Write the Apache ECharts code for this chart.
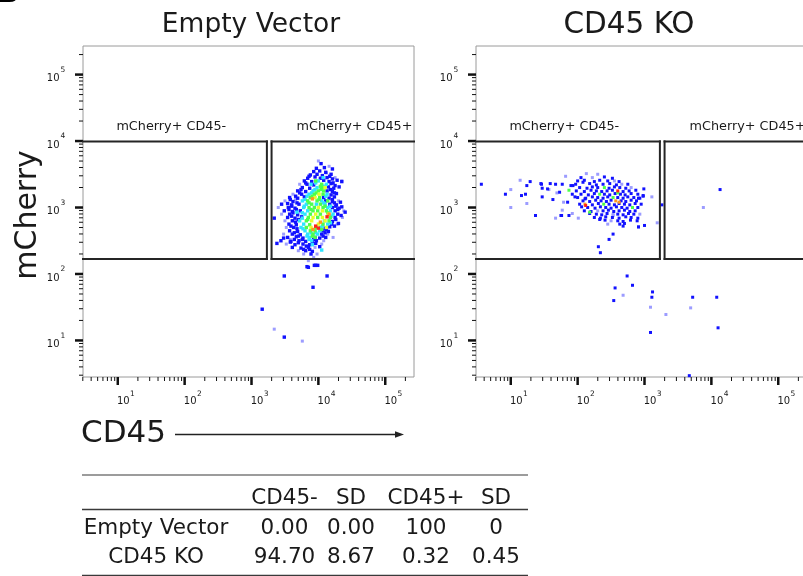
<!DOCTYPE html>
<html><head><meta charset="utf-8">
<script src="https://cdn.jsdelivr.net/npm/echarts/dist/echarts.min.js"></script>
<style>html,body{margin:0;padding:0;background:#fff}#c{width:803px;height:576px}</style>
</head><body><div id="c"></div>
<script>
// ---------- axis ranges (log10 units of fluorescence) ----------
const X_RANGE = [0.48, 5.43];
const Y_RANGE = [0.45, 5.43];
const majorExps = [1, 2, 3, 4, 5];
const minorDecades = [0, 1, 2, 3, 4, 5];
const minorMult = [2, 3, 4, 5, 6, 7, 8, 9];

// ---------- titles / labels ----------
const panelTitles = ['Empty Vector', 'CD45 KO'];
const yAxisTitle = 'mCherry';
const xAxisTitle = 'CD45';
const gateNames = ['mCherry+ CD45-', 'mCherry+ CD45+'];
// gates in log10 units: [cd45Low, cd45High, mCherryLow, mCherryHigh]
const gateNeg = [0.0, 3.23, 2.226, 3.995];
const gatePos = [3.30, 6.0, 2.226, 3.995];
const gateLabelCD45 = [1.80, 4.54];

// ---------- table ----------
const tableCols = ['CD45-', 'SD', 'CD45+', 'SD'];
const tableRowNames = ['Empty Vector', 'CD45 KO'];
const colCD45neg = ['0.00', '94.70'];
const colSDneg = ['0.00', '8.67'];
const colCD45pos = ['100', '0.32'];
const colSDpos = ['0', '0.45'];

// ---------- events, Empty Vector: [log10 CD45, log10 mCherry] by density level ----------
const evLav = [[4.00,3.70],[4.16,3.62],[4.25,3.45],[4.35,3.40],[3.72,3.35],[3.62,3.20],[3.50,3.10],[3.40,3.00],[4.38,2.95],[3.45,2.90],[4.36,2.85],[3.50,2.80],[4.28,2.75],[3.52,2.70],[3.48,2.60],[4.14,2.60],[4.08,2.50],[3.52,2.45],[4.05,2.45],[3.95,2.40],[3.70,2.35],[3.78,2.30],[3.98,2.30],[3.85,2.20],[4.12,3.52],[3.58,2.52],[4.30,3.10],[3.66,3.12],[4.22,2.55],[3.93,2.25],[3.34,1.17],[3.76,0.99]];
const evBlue = [[4.04,3.66],[3.97,3.59],[4.09,3.60],[4.21,3.58],[3.93,3.54],[4.02,3.55],[4.11,3.53],[3.88,3.49],[3.98,3.50],[4.06,3.48],[4.19,3.50],[3.84,3.44],[3.95,3.46],[4.03,3.44],[4.13,3.45],[4.21,3.43],[3.79,3.40],[3.90,3.39],[4.08,3.41],[4.16,3.39],[4.28,3.41],[3.83,3.35],[3.93,3.34],[4.19,3.36],[4.25,3.33],[3.76,3.30],[3.87,3.29],[4.15,3.31],[4.23,3.29],[4.31,3.31],[3.69,3.25],[3.81,3.24],[4.13,3.25],[4.21,3.24],[3.75,3.20],[4.19,3.19],[4.27,3.21],[3.57,3.15],[3.69,3.14],[3.79,3.16],[4.08,3.15],[4.16,3.14],[4.24,3.16],[3.62,3.09],[4.11,3.10],[4.21,3.09],[4.33,3.08],[3.45,3.05],[3.54,3.06],[3.60,3.04],[3.71,3.05],[4.17,3.05],[4.27,3.04],[4.35,3.01],[3.55,3.00],[3.65,2.99],[4.21,3.00],[4.31,2.99],[3.49,2.95],[3.61,2.94],[3.73,2.95],[4.25,2.95],[3.57,2.90],[3.69,2.89],[4.29,2.90],[4.40,2.93],[3.54,2.85],[3.65,2.84],[3.75,2.86],[4.25,2.85],[3.61,2.80],[4.21,2.79],[4.30,2.76],[3.56,2.75],[3.67,2.74],[4.20,2.75],[3.63,2.70],[4.10,2.69],[4.17,2.71],[3.57,2.65],[3.69,2.64],[4.07,2.65],[4.15,2.64],[3.61,2.60],[3.73,2.59],[4.05,2.60],[3.48,2.54],[3.54,2.55],[3.67,2.56],[3.77,2.54],[3.95,2.55],[4.02,2.54],[4.11,2.55],[3.44,2.50],[3.59,2.49],[3.71,2.50],[3.81,2.49],[3.97,2.50],[3.58,2.48],[3.65,2.44],[3.77,2.45],[3.87,2.44],[3.96,2.46],[3.61,2.40],[3.74,2.39],[3.85,2.40],[4.02,2.41],[3.81,2.35],[3.91,2.34],[3.89,2.30],[3.16,1.47],[3.49,1.05],[3.49,1.97],[4.13,1.97],[3.92,1.80],[3.83,2.11],[3.96,2.13],[3.34,2.84],[3.38,2.46],[4.35,3.39],[3.94,2.13],[3.99,2.13],[3.85,2.10],
[3.86,3.47],[4.17,3.47],[3.81,3.37],[4.22,3.37],[3.74,3.27],[4.18,3.27],[3.72,3.22],[4.24,3.22],[3.66,3.17],[4.21,3.12],[3.58,3.12],[3.68,3.07],[4.24,3.07],[3.60,3.02],[4.26,3.02],[3.56,2.97],[3.67,2.97],[4.29,2.97],[3.62,2.92],[4.34,2.88],[3.60,2.87],[3.70,2.82],[4.26,2.82],[3.66,2.78],[4.24,2.72],[3.59,2.72],[3.68,2.68],[4.12,2.67],[3.64,2.62],[4.10,2.62],[3.70,2.57],[4.07,2.57],[3.64,2.52],[3.76,2.52],[3.93,2.52],[3.70,2.47],[3.82,2.42],[3.91,2.47],[3.78,2.37],[3.87,2.37]];
const evCyan = [[4.00,3.40],[4.12,3.35],[3.98,3.30],[3.92,3.25],[3.86,3.20],[4.13,3.20],[3.76,3.10],[4.05,3.10],[3.82,3.05],[3.97,3.05],[4.10,3.05],[3.78,3.00],[4.14,3.00],[3.84,2.95],[4.18,2.95],[3.80,2.90],[4.22,2.90],[3.72,2.80],[3.78,2.75],[4.14,2.75],[3.74,2.70],[4.03,2.70],[3.80,2.65],[4.02,2.65],[3.84,2.60],[3.99,2.60],[3.87,2.55],[3.90,2.50],[4.05,2.36],[3.89,3.35],[4.07,3.45],[3.68,2.93],[3.91,2.44],[4.09,2.80],
[3.96,3.37],[4.09,3.32],[3.95,3.27],[3.90,3.22],[3.83,3.17],[4.11,3.17],[3.80,3.12],[4.08,3.07],[3.79,3.02],[4.18,3.02],[3.76,2.92],[4.19,2.87],[3.76,2.84],[4.18,2.77],[3.77,2.68],[4.06,2.72],[3.83,2.57],[3.96,2.62],[3.86,2.52],[3.89,2.62]];
const evGreen = [[4.05,3.35],[4.06,3.30],[4.00,3.25],[4.08,3.25],[3.94,3.20],[4.07,3.20],[3.88,3.15],[4.02,3.15],[3.84,3.10],[3.98,3.10],[3.90,3.05],[4.03,3.05],[3.86,3.00],[3.94,3.00],[4.07,3.00],[3.92,2.95],[3.99,2.95],[4.12,2.95],[3.88,2.90],[4.03,2.90],[3.85,2.85],[3.99,2.85],[4.18,2.85],[3.82,2.80],[4.16,2.80],[4.07,2.75],[3.82,2.70],[3.96,2.70],[3.88,2.65],[3.95,2.65],[3.92,2.60],[3.95,2.55],[3.96,3.40],[4.14,3.10],
[4.03,3.32],[3.97,3.22],[4.04,3.27],[3.91,3.17],[3.86,3.07],[4.01,3.12],[3.89,2.97],[4.10,3.02],[3.84,2.82],[4.14,2.92],[3.87,2.74],[4.05,2.67],[3.91,2.57]];
const evYellow = [[4.10,3.30],[4.01,3.20],[3.95,3.15],[4.00,3.00],[4.06,2.95],[3.96,2.90],[4.15,2.90],[3.92,2.85],[4.06,2.85],[3.90,2.80],[4.10,2.80],[4.00,2.75],[3.89,2.70],[4.12,2.70]];
const evOrange = [[3.91,3.13],[3.92,2.67],[4.16,2.90],[4.03,2.78]];
const evRed = [[3.96,2.72],[4.00,2.69],[4.13,2.86]];

// ---------- events, CD45 KO ----------
const koLav = [[1.14,3.41],[1.00,3.27],[1.57,3.27],[1.24,3.06],[1.00,3.00],[1.69,3.22],[1.82,3.47],[1.79,3.08],[1.77,2.96],[1.67,2.84],[1.92,2.91],[2.01,2.84],[2.13,3.51],[2.30,3.50],[2.22,3.45],[2.55,3.40],[2.66,3.35],[2.80,3.30],[3.11,3.16],[2.30,2.95],[2.53,2.90],[2.93,2.90],[2.50,2.80],[2.45,2.75],[2.91,2.70],[3.19,2.77],[2.53,2.88],[3.88,3.00],[3.09,1.50],[3.32,1.39],[3.69,1.49],[2.68,1.68]];
const koBlue = [[0.56,3.35],[0.92,3.20],[1.24,3.33],[1.29,3.39],[1.16,3.18],[1.22,3.20],[1.46,3.35],[1.47,3.29],[1.59,3.36],[1.67,3.35],[1.47,3.16],[1.63,3.12],[1.37,2.88],[1.77,3.35],[1.90,3.33],[1.92,3.20],[1.85,3.08],[1.76,2.88],[1.87,2.88],[1.45,3.36],[1.55,3.28],[1.73,3.23],[1.75,2.88],[1.93,3.33],[1.96,3.16],[2.06,3.01],[2.08,3.38],[2.11,3.13],[2.18,2.91],[2.33,2.82],[2.41,2.81],
[2.05,3.45],[2.40,3.46],[2.52,3.44],[2.00,3.40],[2.10,3.41],[2.25,3.39],[2.33,3.41],[2.45,3.40],[2.62,3.39],[1.97,3.35],[2.18,3.36],[2.28,3.34],[2.38,3.35],[2.48,3.36],[2.58,3.34],[2.75,3.35],[2.03,3.30],[2.14,3.29],[2.22,3.31],[2.30,3.30],[2.47,3.29],[2.55,3.31],[2.63,3.30],[2.72,3.29],[1.98,3.25],[2.10,3.24],[2.20,3.26],[2.28,3.25],[2.36,3.24],[2.44,3.25],[2.52,3.26],[2.68,3.24],[2.77,3.25],[2.87,3.26],[2.05,3.20],[2.16,3.19],[2.25,3.21],[2.40,3.20],[2.48,3.19],[2.56,3.21],[2.64,3.20],[2.71,3.19],[2.80,3.21],[2.90,3.20],[2.98,3.18],[2.00,3.15],[2.12,3.14],[2.22,3.16],[2.30,3.15],[2.38,3.14],[2.45,3.16],[2.60,3.15],[2.68,3.14],[2.75,3.16],[2.84,3.15],[2.93,3.14],[2.08,3.10],[2.18,3.09],[2.27,3.11],[2.35,3.10],[2.43,3.09],[2.50,3.11],[2.65,3.10],[2.72,3.09],[2.80,3.11],[2.88,3.10],[2.03,3.05],[2.22,3.04],[2.31,3.06],[2.47,3.05],[2.55,3.04],[2.62,3.06],[2.70,3.05],[2.78,3.04],[2.86,3.06],[2.95,3.05],[2.15,3.00],[2.26,2.99],[2.34,3.01],[2.42,3.00],[2.50,2.99],[2.58,3.01],[2.66,3.00],[2.74,2.99],[2.90,3.00],[2.10,2.95],[2.20,2.94],[2.38,2.95],[2.46,2.96],[2.54,2.94],[2.62,2.95],[2.70,2.96],[2.78,2.94],[2.86,2.95],[2.28,2.90],[2.36,2.89],[2.44,2.91],[2.60,2.90],[2.68,2.89],[2.76,2.91],[2.84,2.90],[2.25,2.85],[2.34,2.84],[2.42,2.86],[2.52,2.85],[2.62,2.84],[2.72,2.86],[2.80,2.85],[2.90,2.84],[2.60,2.80],[2.68,2.79],[2.79,2.81],[2.89,2.80],[2.63,2.75],[2.70,2.76],[2.91,2.71],[3.00,2.73],[2.68,2.72],[2.99,3.28],[2.98,3.17],[2.91,3.14],[3.26,3.04],
[2.53,2.60],[2.47,2.52],[2.31,2.41],[2.34,2.32],[4.13,3.27],
[2.74,1.97],[2.82,1.83],[2.56,1.79],[2.54,1.60],[3.12,1.73],[3.11,1.65],[3.09,1.12],[3.72,1.65],[4.08,1.65],[4.10,1.19],[3.67,0.47]];
const koGreen = [[1.87,3.26],[2.40,3.30],[2.33,3.20],[2.53,3.15],[2.39,3.05],[2.82,3.00],[2.18,2.93],[2.60,3.22]];
const koOrange = [[2.57,3.10],[2.11,3.05],[2.62,3.08]];
const koRed = [[2.60,3.25],[2.12,3.03]];

// ---------- build ----------
const FONT = '"DejaVu Sans", "Liberation Sans", Arial, sans-serif';
const tickData = [];
[0, 1].forEach(function (ax) {
  const r = ax === 0 ? X_RANGE : Y_RANGE;
  majorExps.forEach(function (e) { tickData.push([e, ax, 1]); });
  minorDecades.forEach(function (d) {
    minorMult.forEach(function (m) {
      const v = d + Math.log10(m);
      if (v >= r[0] - 0.01 && v <= r[1]) tickData.push([v, ax, 0]);
    });
  });
});

function txt(x, y, s, size, align, valign, extra) {
  const o = { type: 'text', x: x, y: y, silent: true,
    style: { text: s, font: size + 'px ' + FONT, fill: '#1a1a1a',
      textAlign: align, align: align, textVerticalAlign: valign, verticalAlign: valign } };
  if (extra) Object.assign(o, extra);
  return o;
}

function renderTick(params, api) {
  const cs = params.coordSys;
  const v = api.value(0), ax = api.value(1), major = api.value(2) === 1;
  const len = major ? 8 : 4, lw = major ? 2.5 : 1;
  const ch = [];
  if (ax === 0) {
    const x = api.coord([v, Y_RANGE[0]])[0];
    const b = cs.y + cs.height;
    ch.push({ type: 'line', shape: { x1: x, y1: b, x2: x, y2: b + len }, style: { stroke: '#111', lineWidth: lw } });
    if (major) {
      ch.push(txt(x - 0.8, b + 24.5, '10', 10, 'left', 'middle'));
      ch.push(txt(x + 12.3, b + 17.3, String(Math.round(v)), 7.5, 'left', 'middle'));
    }
  } else {
    const y = api.coord([X_RANGE[0], v])[1];
    const l = cs.x;
    ch.push({ type: 'line', shape: { x1: l, y1: y, x2: l - len, y2: y }, style: { stroke: '#111', lineWidth: lw } });
    if (major) {
      ch.push(txt(l - 23.5, y + 4.2, '10', 10, 'right', 'middle'));
      ch.push(txt(l - 22.5, y - 4.5, String(Math.round(v)), 7.5, 'left', 'middle'));
    }
  }
  return { type: 'group', children: ch };
}

function renderGate(params, api) {
  const cs = params.coordSys;
  const x0 = api.value(0), x1 = api.value(1), y0 = api.value(2), y1 = api.value(3);
  const tl = api.coord([x0, y1]), br = api.coord([x1, y0]);
  const left = Math.max(tl[0], cs.x), right = Math.min(br[0], cs.x + cs.width);
  const st = { stroke: '#252525', lineWidth: 2, lineCap: 'square' };
  const ch = [
    { type: 'line', shape: { x1: left, y1: tl[1], x2: right, y2: tl[1] }, style: st },
    { type: 'line', shape: { x1: left, y1: br[1], x2: right, y2: br[1] }, style: st }
  ];
  if (tl[0] > cs.x && tl[0] < cs.x + cs.width) ch.push({ type: 'line', shape: { x1: tl[0], y1: tl[1], x2: tl[0], y2: br[1] }, style: st });
  if (br[0] > cs.x && br[0] < cs.x + cs.width) ch.push({ type: 'line', shape: { x1: br[0], y1: tl[1], x2: br[0], y2: br[1] }, style: st });
  const lp = api.coord([gateLabelCD45[params.dataIndex], y1]);
  ch.push(txt(lp[0], lp[1] - 15, gateNames[params.dataIndex], 12.8, 'center', 'middle'));
  return { type: 'group', children: ch };
}

const COLORS = { lav: '#9c9cff', blue: '#1212ff', cyan: '#2fe4ff', green: '#4cff4c', yellow: '#e6ff2a', orange: '#ff961e', red: '#ff2318' };
function dots(data, color, gi, z, size) {
  return { type: 'scatter', xAxisIndex: gi, yAxisIndex: gi, data: data, symbol: 'rect', symbolSize: size || 3,
    itemStyle: { color: color, opacity: 1 }, silent: true, z: z, emphasis: { disabled: true }, clip: true };
}

const series = [];
[0, 1].forEach(function (gi) {
  series.push({ type: 'custom', xAxisIndex: gi, yAxisIndex: gi, data: tickData, renderItem: renderTick, silent: true, z: 5 });
  series.push({ type: 'custom', xAxisIndex: gi, yAxisIndex: gi, data: [gateNeg, gatePos], renderItem: renderGate, silent: true, z: 6 });
});
series.push(dots(evLav, COLORS.lav, 0, 2, 3), dots(evBlue, COLORS.blue, 0, 3, 3.4), dots(evCyan, COLORS.cyan, 0, 3, 3.4),
  dots(evGreen, COLORS.green, 0, 3, 3.4), dots(evYellow, COLORS.yellow, 0, 3, 3.4), dots(evOrange, COLORS.orange, 0, 3, 3.4), dots(evRed, COLORS.red, 0, 3, 3.4));
series.push(dots(koLav, COLORS.lav, 1, 2, 3), dots(koBlue, COLORS.blue, 1, 3, 3), dots(koGreen, COLORS.green, 1, 3, 3),
  dots(koOrange, COLORS.orange, 1, 3, 3), dots(koRed, COLORS.red, 1, 3, 3));

function axis(gi, r) {
  return { gridIndex: gi, type: 'value', min: r[0], max: r[1], axisLine: { show: false }, axisTick: { show: false },
    axisLabel: { show: false }, splitLine: { show: false } };
}

// table graphics
const tbl = [];
const colX = [284.5, 351, 426, 496];
const rowY = [528.5, 557.5];
tbl.push({ type: 'line', shape: { x1: 82, y1: 475, x2: 528, y2: 475 }, style: { stroke: '#3a3a3a', lineWidth: 1.2 } });
tbl.push({ type: 'line', shape: { x1: 82, y1: 509.5, x2: 528, y2: 509.5 }, style: { stroke: '#3a3a3a', lineWidth: 1.6 } });
tbl.push({ type: 'line', shape: { x1: 82, y1: 575.3, x2: 528, y2: 575.3 }, style: { stroke: '#3a3a3a', lineWidth: 1.2 } });
tableCols.forEach(function (c, i) { tbl.push(txt(colX[i], 498.8, c, 21.5, 'center', 'middle')); });
const tableColsData = [colCD45neg, colSDneg, colCD45pos, colSDpos];
tableRowNames.forEach(function (n, r) {
  tbl.push(txt(156, rowY[r], n, 21.5, 'center', 'middle'));
  tableColsData.forEach(function (col, i) { tbl.push(txt(colX[i], rowY[r], col[r], 21.5, 'center', 'middle')); });
});

const graphics = [
  { type: 'text', x: -2, y: -6, silent: true, style: { text: 'B', font: 'bold 28px "Liberation Sans", Arial', fill: '#000', textAlign: 'left', align: 'left', textVerticalAlign: 'middle', verticalAlign: 'middle' } },
  txt(251, 25, panelTitles[0], 26.5, 'center', 'middle'),
  txt(629, 25.5, panelTitles[1], 29.5, 'center', 'middle'),
  txt(28.5, 215, yAxisTitle, 30, 'center', 'middle', { rotation: Math.PI / 2 }),
  txt(81, 433.5, xAxisTitle, 31, 'left', 'middle'),
  { type: 'line', silent: true, shape: { x1: 175, y1: 434.5, x2: 398, y2: 434.5 }, style: { stroke: '#222', lineWidth: 1.3 } },
  { type: 'polygon', silent: true, shape: { points: [[404, 434.5], [395, 431.3], [395, 437.7]] }, style: { fill: '#222' } }
].concat(tbl);

const chart = echarts.init(document.getElementById('c'), null, { renderer: 'canvas' });
chart.setOption({
  animation: false,
  backgroundColor: '#fff',
  grid: [
    { left: 83, top: 46, width: 331, height: 331, show: true, borderColor: '#9a9a9a', borderWidth: 1, backgroundColor: 'transparent', containLabel: false, outerBoundsMode: 'none' },
    { left: 476, top: 46, width: 331, height: 331, show: true, borderColor: '#9a9a9a', borderWidth: 1, backgroundColor: 'transparent', containLabel: false, outerBoundsMode: 'none' }
  ],
  xAxis: [axis(0, X_RANGE), axis(1, X_RANGE)],
  yAxis: [axis(0, Y_RANGE), axis(1, Y_RANGE)],
  series: series,
  graphic: graphics
});
</script></body></html>
